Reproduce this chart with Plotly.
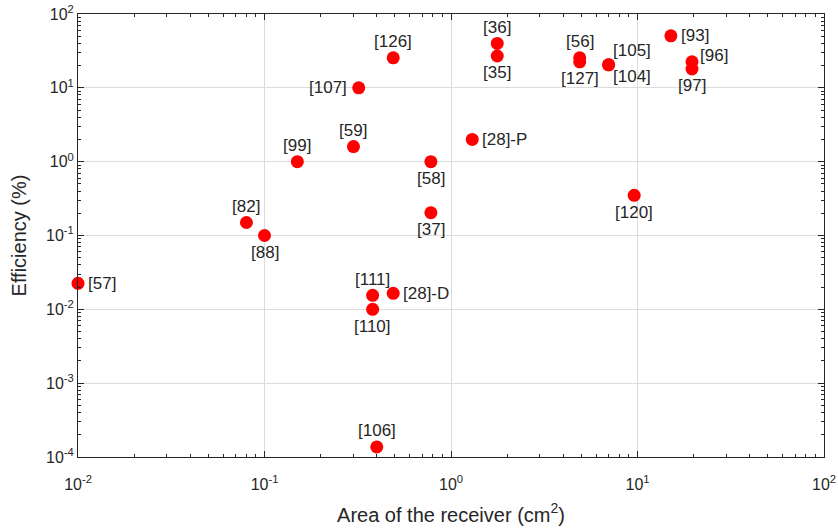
import numpy as np
import plotly.graph_objects as go

labels = ["[57]", "[82]", "[88]", "[99]", "[59]", "[107]", "[126]", "[36]", "[35]",
          "[56]", "[127]", "[105]", "[104]", "[93]", "[96]", "[97]", "[28]-P", "[58]",
          "[37]", "[120]", "[111]", "[110]", "[28]-D", "[106]"]
area = [0.01, 0.08, 0.1, 0.15, 0.30, 0.32, 0.49, 1.77, 1.77,
        4.9, 4.9, 7.0, 7.0, 15.1, 19.6, 19.6, 1.3, 0.78,
        0.78, 9.6, 0.38, 0.38, 0.49, 0.40]
eff = [0.0225, 0.15, 0.1, 1.0, 1.6, 10.0, 25.5, 40.0, 27.0,
       25.5, 22.5, 20.5, 20.5, 50.7, 22.5, 18.0, 2.0, 1.0,
       0.204, 0.35, 0.0155, 0.01, 0.0165, 0.000137]
label_pos = ["right", "above", "below", "above", "above", "left", "above", "above", "below",
             "above", "below", "aboveright", "belowright", "right", "upright", "below", "right", "below",
             "below", "below", "above", "below", "right", "above"]

x_tickvals = [0.01, 0.1, 1, 10, 100]
x_ticktext = ["10<sup>-2</sup>", "10<sup>-1</sup>", "10<sup>0</sup>", "10<sup>1</sup>", "10<sup>2</sup>"]
y_tickvals = [1e-4, 1e-3, 1e-2, 1e-1, 1, 10, 100]
y_ticktext = ["10<sup>-4</sup>", "10<sup>-3</sup>", "10<sup>-2</sup>", "10<sup>-1</sup>",
              "10<sup>0</sup>", "10<sup>1</sup>", "10<sup>2</sup>"]

FONT = "Liberation Sans, Arial, sans-serif"
TXT = "#262626"

fig = go.Figure()
fig.add_trace(go.Scatter(x=area, y=eff, mode="markers", cliponaxis=False,
                         marker=dict(color="#ff0000", size=13, line=dict(width=0)),
                         hoverinfo="text", text=labels))

style = {
    "above": dict(xanchor="center", yanchor="middle", xshift=0, yshift=16),
    "below": dict(xanchor="center", yanchor="middle", xshift=0, yshift=-17),
    "left": dict(xanchor="right", yanchor="middle", xshift=-10, yshift=0),
    "right": dict(xanchor="left", yanchor="middle", xshift=8, yshift=0),
    "upright": dict(xanchor="left", yanchor="middle", xshift=6, yshift=6),
    "aboveright": dict(xanchor="center", yanchor="middle", xshift=23, yshift=14),
    "belowright": dict(xanchor="center", yanchor="middle", xshift=23, yshift=-12),
}
for lab, xv, yv, pos in zip(labels, area, eff, label_pos):
    fig.add_annotation(x=np.log10(xv), y=np.log10(yv), text=lab, showarrow=False,
                       font=dict(family=FONT, size=17, color=TXT), **style[pos])

def minor_vals(lo, hi):
    out = []
    for d in range(lo, hi):
        for m in range(2, 10):
            out.append(m * 10.0 ** d)
    return out

axis_common = dict(type="log", showline=True, linecolor="#262626", linewidth=1,
                   mirror="ticks", ticks="inside", ticklen=6, tickcolor="#262626",
                   showgrid=True, gridcolor="#dcdcdc", gridwidth=1, zeroline=False,
                   automargin=False,
                   tickfont=dict(family=FONT, size=16, color=TXT), tickmode="array")

fig.update_xaxes(range=[-2, 2], tickvals=x_tickvals, ticktext=x_ticktext,
                 ticklabelstandoff=13,
                 minor=dict(tickmode="array", tickvals=minor_vals(-2, 2), ticks="inside",
                            ticklen=3, tickcolor="#262626", showgrid=False),
                 title=dict(text="Area of the receiver (cm<sup>2</sup>)",
                            font=dict(family=FONT, size=20, color=TXT), standoff=15),
                 **axis_common)
fig.update_yaxes(range=[-4, 2], tickvals=y_tickvals, ticktext=y_ticktext,
                 minor=dict(tickmode="array", tickvals=minor_vals(-4, 2), ticks="inside",
                            ticklen=3, tickcolor="#262626", showgrid=False),
                 title=dict(text="Efficiency (%)",
                            font=dict(family=FONT, size=20, color=TXT), standoff=14),
                 **axis_common)

fig.update_layout(width=838, height=529, margin=dict(l=78, r=14, t=14, b=72),
                  plot_bgcolor="white", paper_bgcolor="white", showlegend=False)

fig.write_html("out.html")
